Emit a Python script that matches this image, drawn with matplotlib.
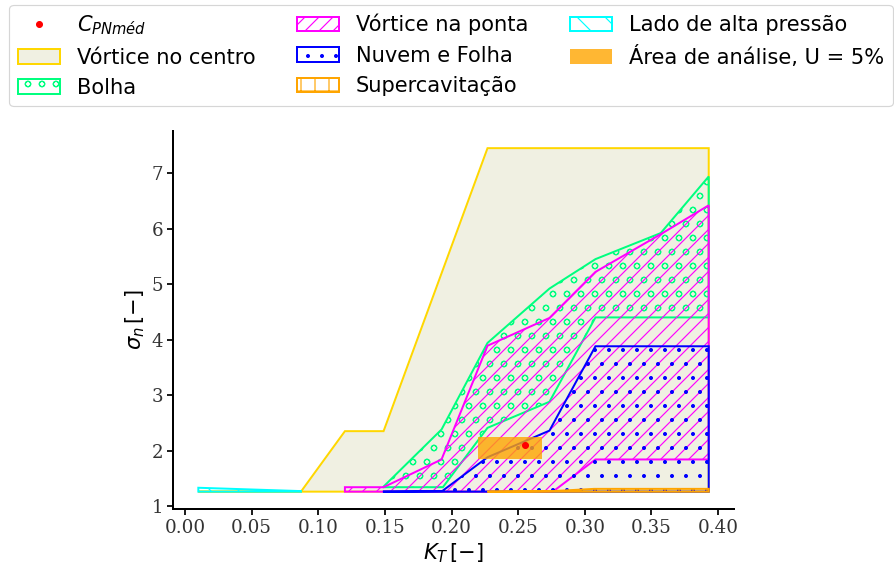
import numpy as np
import matplotlib
matplotlib.use("Agg")
import matplotlib.pyplot as plt

# ponto medio C_PN
kt_cpn = [0.2555]
sig_cpn = [2.095]

# area de analise (U = 5%)
area_kt = [0.220, 0.268]
area_sig = [1.85, 2.24]

# regioes de cavitacao: contornos (KT, sigma_n)
centro_kt = [0.010, 0.087, 0.120, 0.149, 0.227, 0.393, 0.393]
centro_sig = [1.26, 1.26, 2.35, 2.35, 7.45, 7.45, 1.26]

bolha_kt = [0.1485, 0.1925, 0.227, 0.2735, 0.308, 0.357, 0.393,
            0.393, 0.308, 0.2735, 0.227, 0.1935]
bolha_sig = [1.34, 2.38, 3.94, 4.92, 5.45, 5.92, 6.94,
             4.40, 4.40, 2.88, 2.41, 1.34]

ponta_kt = [0.120, 0.120, 0.149, 0.1925, 0.227, 0.2735, 0.308, 0.357, 0.393,
            0.393, 0.308, 0.276]
ponta_sig = [1.26, 1.34, 1.34, 1.84, 3.89, 4.39, 5.22, 5.90, 6.42,
             1.84, 1.84, 1.26]

nuvem_kt = [0.1485, 0.193, 0.227, 0.2735, 0.308, 0.393, 0.393]
nuvem_sig = [1.26, 1.27, 1.88, 2.36, 3.88, 3.88, 1.26]

super_kt = [0.227, 0.276, 0.307, 0.393, 0.393]
super_sig = [1.26, 1.27, 1.31, 1.31, 1.26]

alta_kt = [0.010, 0.010, 0.087, 0.087]
alta_sig = [1.26, 1.33, 1.27, 1.26]

plt.rcParams['hatch.linewidth'] = 1.0

fig = plt.figure(figsize=(894/84, 571/84), dpi=84)
ax = fig.add_axes([0.1933, 0.1089, 0.628, 0.6617])

lw = 1.7
ax.plot(kt_cpn, sig_cpn, '.', color='red', markersize=10, label=r'$C_{PNméd}$')
ax.fill(centro_kt, centro_sig, facecolor='#f0f0e2', edgecolor='gold', lw=lw,
        label='Vórtice no centro')
ax.fill(bolha_kt, bolha_sig, fill=False, edgecolor='springgreen', hatch='o', lw=lw,
        label='Bolha')
ax.fill(ponta_kt, ponta_sig, fill=False, edgecolor='magenta', hatch='//', lw=lw,
        label='Vórtice na ponta')
ax.fill(nuvem_kt, nuvem_sig, fill=False, edgecolor='blue', hatch='.', lw=lw,
        label='Nuvem e Folha')
ax.fill(super_kt, super_sig, fill=False, edgecolor='orange', hatch='+', lw=lw,
        label='Supercavitação')
ax.fill(alta_kt, alta_sig, fill=False, edgecolor='cyan', hatch='\\', lw=lw,
        label='Lado de alta pressão')
ax.fill_between(area_kt, area_sig[0], area_sig[1], color='orange', alpha=0.8,
                lw=0, label='Área de análise, U = 5%')

ax.spines['top'].set_visible(False)
ax.spines['right'].set_visible(False)
for s in ['left', 'bottom']:
    ax.spines[s].set_linewidth(1.7)
    ax.spines[s].set_color('black')
ax.tick_params(width=1.5, length=5, labelsize=15.7, colors='black', labelcolor='0.2')
for t in ax.get_xticklabels() + ax.get_yticklabels():
    t.set_fontfamily('DejaVu Serif')
ax.set_xticks(np.arange(0, 0.41, 0.05))
ax.set_yticks(np.arange(1, 8, 1))
ax.set_xlabel(r'$K_T\,[-]$', fontsize=18)
ax.set_ylabel(r'$\sigma_n\,[-]$', fontsize=18)

fig.legend(loc='upper center', bbox_to_anchor=(0.5045, 1 - 5/571), ncol=3,
           fontsize=18, borderaxespad=0)

fig.savefig('out.png', dpi=84)
